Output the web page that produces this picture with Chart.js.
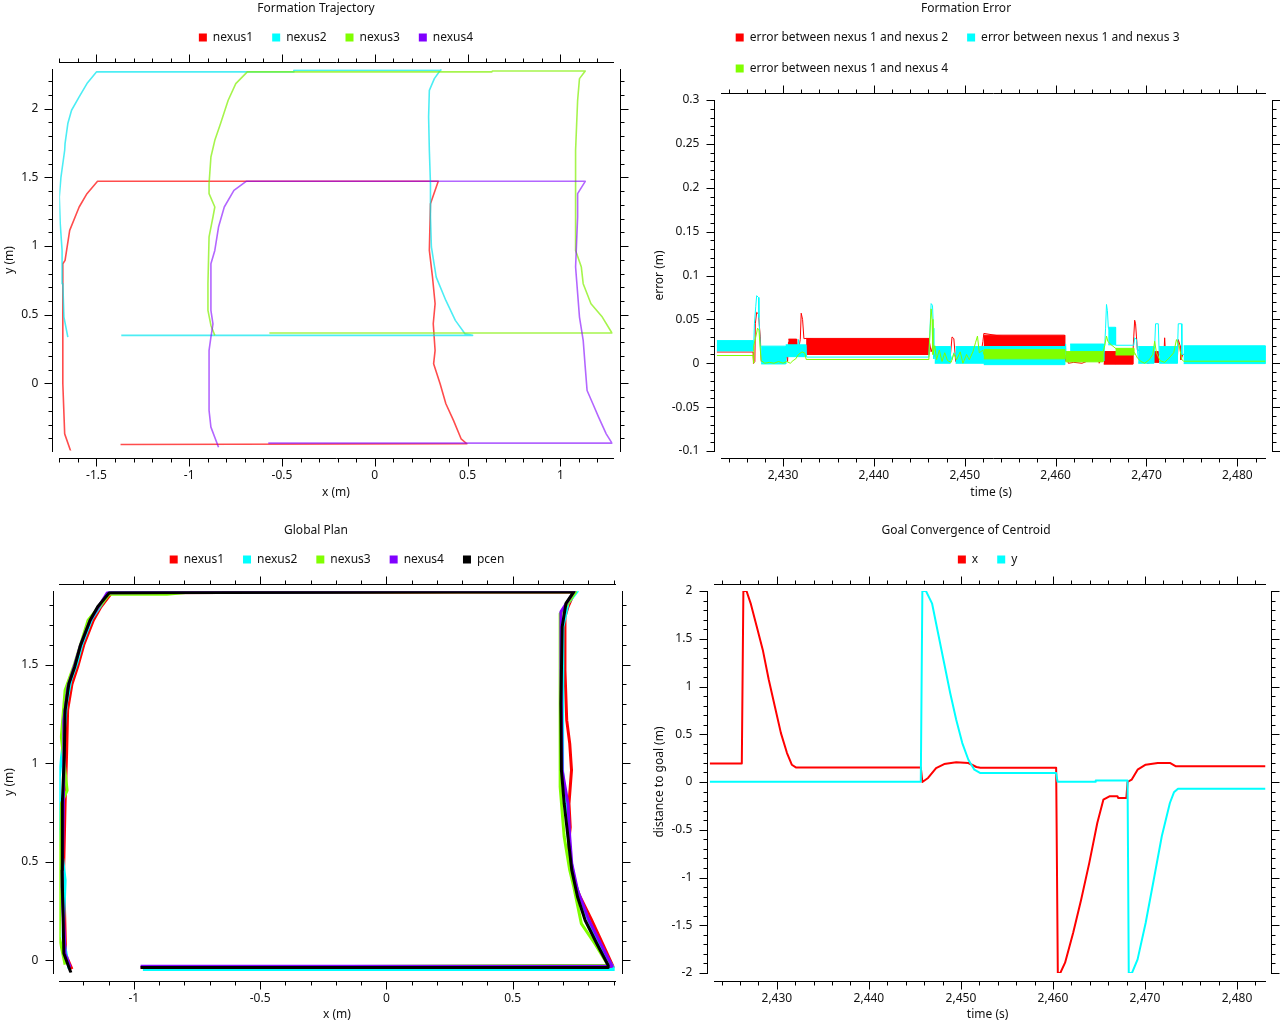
<!DOCTYPE html>
<html><head><meta charset="utf-8">
<script src="https://cdn.jsdelivr.net/npm/chart.js@4.4.1/dist/chart.umd.min.js"></script>
<style>
html,body{margin:0;padding:0;background:#fff;overflow:hidden;width:1280px;height:1024px;}
canvas{position:absolute;}
</style></head><body>
<canvas id="c1" width="640" height="512" style="left:0;top:0"></canvas>
<canvas id="c2" width="640" height="512" style="left:640px;top:0"></canvas>
<canvas id="c3" width="640" height="512" style="left:0;top:522px"></canvas>
<canvas id="c4" width="640" height="512" style="left:640px;top:522px"></canvas>
<script>
// ---------- Formation Trajectory (x,y in m) ----------
const trajX1 = [-1.638,-1.671,-1.681,-1.681,-1.681,-1.669,-1.644,-1.593,-1.551,-1.494,0.342,0.300,0.294,0.311,0.325,0.315,0.325,0.317,0.352,0.383,0.424,0.465,0.496,-1.370];
const trajY1 = [-0.495,-0.367,-0.002,0.483,0.871,0.896,1.114,1.284,1.381,1.471,1.471,1.308,0.968,0.774,0.580,0.434,0.240,0.143,-0.002,-0.148,-0.269,-0.403,-0.439,-0.444];
const trajX2 = [-1.654,-1.675,-1.681,-1.685,-1.695,-1.700,-1.691,-1.671,-1.669,-1.654,-1.634,-1.593,-1.551,-1.500,-0.440,-0.436,0.352,0.356,0.321,0.294,0.290,0.294,0.300,0.300,0.305,0.331,0.383,0.434,0.486,0.527,-1.366];
const trajY2 = [0.337,0.483,0.726,0.968,1.163,1.357,1.502,1.697,1.745,1.891,1.988,2.085,2.182,2.267,2.267,2.279,2.279,2.284,2.218,2.133,1.939,1.697,1.454,1.211,0.993,0.774,0.604,0.459,0.362,0.350,0.350];
const trajX3 = [-0.862,-0.883,-0.899,-0.899,-0.893,-0.872,-0.862,-0.893,-0.893,-0.883,-0.862,-0.831,-0.790,-0.749,-0.687,0.630,0.634,1.134,1.103,1.093,1.082,1.082,1.113,1.123,1.165,1.226,1.278,-0.568];
const trajY3 = [0.350,0.422,0.532,0.726,1.066,1.211,1.284,1.381,1.454,1.648,1.769,1.891,2.061,2.182,2.267,2.267,2.274,2.274,2.218,2.061,1.697,0.968,0.847,0.726,0.580,0.483,0.367,0.367];
const trajX4 = [-0.842,-0.883,-0.893,-0.893,-0.883,-0.872,-0.883,-0.883,-0.883,-0.862,-0.842,-0.811,-0.759,-0.693,1.134,1.093,1.093,1.082,1.103,1.123,1.134,1.144,1.175,1.206,1.247,1.278,-0.574];
const trajY4 = [-0.464,-0.318,-0.197,0.240,0.337,0.434,0.532,0.726,0.871,0.968,1.138,1.284,1.405,1.471,1.471,1.381,1.211,0.847,0.483,0.313,0.119,-0.051,-0.148,-0.245,-0.367,-0.434,-0.434];
const trajXTicks = [-1.5,-1,-0.5,0,0.5,1];
const trajYTicks = [0,0.5,1,1.5,2];

// ---------- Global Plan (x,y in m) ----------
const planX1 = [-1.245,-1.270,-1.278,-1.272,-1.266,-1.262,-1.245,-1.222,-1.198,-1.160,-1.130,-1.088,0.745,0.719,0.707,0.707,0.714,0.726,0.733,0.723,0.728,0.720,0.734,0.764,0.810,0.856,0.898,-0.973];
const planY1 = [-0.045,0.030,0.450,0.800,1.050,1.270,1.400,1.490,1.600,1.725,1.793,1.864,1.869,1.793,1.742,1.471,1.218,1.099,0.964,0.795,0.676,0.575,0.440,0.330,0.211,0.085,-0.034,-0.036];
const planX2 = [-1.257,-1.280,-1.272,-1.287,-1.295,-1.295,-1.277,-1.267,-1.249,-1.226,-1.204,-1.166,-1.097,0.757,0.719,0.699,0.696,0.699,0.711,0.726,0.745,0.772,0.818,0.863,0.901,0.901,-0.964];
const planY2 = [-0.042,0.118,0.406,0.575,0.795,0.930,1.133,1.302,1.421,1.505,1.607,1.733,1.864,1.874,1.810,1.691,1.302,0.964,0.761,0.541,0.406,0.288,0.152,0.034,-0.042,-0.047,-0.047];
const planX3 = [-1.272,-1.295,-1.292,-1.287,-1.264,-1.287,-1.272,-1.234,-1.181,-1.097,-0.869,-0.763,0.749,0.691,0.688,0.688,0.704,0.726,0.742,0.772,0.825,0.878,-0.965];
const planY3 = [-0.022,0.118,0.457,0.795,0.862,1.133,1.370,1.505,1.725,1.857,1.857,1.869,1.869,1.759,1.302,0.879,0.626,0.457,0.372,0.186,0.085,-0.025,-0.037];
const planX4 = [-1.252,-1.272,-1.284,-1.277,-1.277,-1.261,-1.234,-1.211,-1.173,-1.105,0.745,0.691,0.691,0.696,0.719,0.726,0.734,0.757,0.802,0.848,0.894,-0.973];
const planY4 = [-0.034,0.034,0.372,0.964,1.218,1.387,1.497,1.598,1.725,1.864,1.874,1.767,1.471,0.964,0.795,0.626,0.490,0.355,0.203,0.085,-0.030,-0.030];
const planXC = [-1.249,-1.277,-1.284,-1.283,-1.275,-1.272,-1.257,-1.234,-1.211,-1.173,-1.143,-1.097,0.742,0.711,0.696,0.691,0.693,0.704,0.719,0.734,0.757,0.787,0.833,0.878,0.878,-0.973];
const planYC = [-0.063,0.034,0.457,0.795,1.049,1.268,1.404,1.488,1.598,1.725,1.793,1.864,1.869,1.810,1.691,1.302,0.964,0.795,0.626,0.457,0.321,0.203,0.085,-0.025,-0.037,-0.037];
const planXTicks = [-1,-0.5,0,0.5];
const planYTicks = [0,0.5,1,1.5];

// ---------- Formation Error (time s, error m) ----------
const err12T = [2422.7,2426.7,2426.75,2426.9,2426.95,2427.1,2427.3,2427.4,2427.5,2427.6,2428.0,2430.2,2430.35,2430.5,2430.6,2431.5,2431.6,2431.9,2432.0,2432.15,2432.3,2432.55,
 2446.05,2446.1,2446.3,2446.5,2446.6,2446.9,2447.1,2447.4,2447.6,2447.9,2448.1,2448.4,2448.6,2448.8,2449.0,2449.3,2449.6,2450.0,2450.3,2450.6,2450.9,2451.2,2451.5,2451.8,2452.0,2452.1,
 2461.0,2461.05,2461.2,2461.4,2462.0,2462.9,2463.4,2464.6,2464.8,2465.1,2465.3,
 2468.5,2468.6,2468.7,2468.8,2468.9,2469.0,2469.2,2469.5,2469.7,2470.1,2470.5,2470.8,
 2471.3,2471.9,2472.0,2472.1,2472.3,2472.9,2473.4,2473.5,2473.7,2473.8,2474.0,2483.1];
const err12V = [0.0128,0.0128,0.0,0.002,0.045,0.058,0.056,0.042,0.030,0.002,0.0,0.0,0.011,0.002,0.024,0.024,0.010,0.027,0.057,0.050,0.028,0.0283,
 0.010,0.025,0.013,0.020,0.007,0.016,0.001,0.012,0.003,0.011,0.004,0.006,0.030,0.028,0.002,0.013,0.004,0.018,0.002,0.015,0.006,0.013,0.003,0.012,0.025,0.034,
 0.019,0.002,0.010,0.0,0.001,0.0,0.002,0.009,0.0,0.006,0.0133,
 0.010,0.030,0.049,0.045,0.030,0.015,0.015,0.008,0.012,0.0,0.001,0.0133,
 0.001,0.005,0.029,0.010,0.0145,0.0016,0.005,0.027,0.020,0.004,0.010,0.019];
const err12Bands = [[2430.6,2431.5,0.012,0.0275],[2432.55,2446.05,0.010,0.0283],[2452.1,2461.0,0.019,0.032],[2465.3,2466.6,-0.001,0.0133],[2466.6,2468.5,-0.001,0.010],[2470.8,2471.3,0.001,0.0133],[2472.3,2472.9,0.0016,0.0145]];

const err13T = [2422.7,2426.7,2426.75,2426.85,2427.0,2427.1,2427.3,2427.35,2427.5,2427.6,2430.3,2431.6,2431.7,2431.9,2432.5,2432.6,2446.05,2446.1,2446.2,2446.3,2446.45,2446.55,2446.6,2446.7,2448.4,2448.6,2448.8,2449.0,2452.1,2461.0,2461.1,2461.2,2461.6,2465.3,2465.4,2465.5,2465.6,2465.7,2465.8,2466.6,2468.5,2468.6,2468.7,2468.9,2469.1,2470.8,2470.9,2471.0,2471.3,2471.4,2473.4,2473.5,2473.85,2473.9,2474.1,2483.1];
const err13V = [0.02,0.02,0.014,0.045,0.065,0.077,0.075,0.052,0.02,0.01,0.012,0.015,0.027,0.012,0.02,0.007,0.007,0.02,0.045,0.068,0.066,0.04,0.005,0.019,0.010,0.004,0.012,0.010,0.01,0.01,0.022,0.003,0.012,0.012,0.02,0.04,0.067,0.06,0.041,0.0205,0.0205,0.0205,0.029,0.027,0.005,0.010,0.019,0.045,0.045,0.010,0.010,0.045,0.045,0.010,0.010,0.010];
const err13Bands = [[2422.7,2426.7,0.0141,0.0258],[2427.6,2430.3,-0.0008,0.0195],[2430.3,2432.5,0.0075,0.021],[2446.7,2448.4,0.0,0.019],[2449.0,2452.1,0.0,0.019],[2452.1,2461.0,-0.0016,0.0191],[2461.6,2465.3,0.0025,0.0219],[2465.8,2466.6,0.021,0.041],[2469.1,2470.8,0.0,0.019],[2471.4,2473.4,0.0,0.019],[2474.1,2483.1,-0.0004,0.0199]];

const err14T = [2422.7,2426.7,2426.75,2426.8,2427.0,2427.2,2427.35,2427.5,2427.6,2428.0,2428.5,2429.0,2429.5,2430.0,2430.4,2430.8,2431.1,2431.4,2431.7,2432.1,2432.4,2432.55,2446.05,2446.15,2446.3,2446.4,2446.5,2446.7,2446.9,2447.2,2447.5,2447.8,2448.1,2448.5,2448.8,2449.1,2449.5,2449.8,2450.2,2450.5,2450.9,2451.2,2451.4,2451.6,2452.0,2452.1,2461.0,2461.1,2465.2,2465.4,2465.6,2465.75,2466.0,2466.6,2468.6,2468.7,2469.0,2469.4,2469.8,2470.3,2470.7,2470.9,2471.1,2471.5,2472.0,2472.5,2473.0,2473.3,2473.6,2473.9,2474.1,2483.1];
const err14V = [0.0088,0.0088,0.0,0.02,0.03,0.04,0.038,0.015,0.003,0.0,0.001,0.0,0.002,0.0,0.002,0.0,0.003,0.005,0.01,0.013,0.0115,0.0043,0.0043,0.03,0.062,0.05,0.01,0.02,0.004,0.015,0.002,0.012,0.003,0.001,0.011,0.004,0.013,0.0,0.01,0.004,0.013,0.024,0.031,0.012,0.015,0.01,0.01,0.008,0.012,0.02,0.031,0.025,0.022,0.017,0.012,0.012,0.006,0.002,0.0,0.004,0.01,0.025,0.012,0.003,0.001,0.006,0.012,0.027,0.02,0.004,0.0023,0.0023];
const err14Bands = [[2452.1,2461.0,0.005,0.0155],[2461.1,2465.2,0.0016,0.0133],[2466.6,2468.6,0.0094,0.017]];
const timeTicks = [2430,2440,2450,2460,2470,2480];
const errYTicks = [-0.1,-0.05,0,0.05,0.1,0.15,0.2,0.25,0.3];

// ---------- Goal Convergence of Centroid ----------
const goalXT = [2422.7,2426.19,2426.36,2426.7,2427.15,2427.81,2428.47,2429.12,2429.78,2430.44,2431.10,2431.62,2432.06,2445.64,2445.81,2446.43,2447.30,2448.18,2449.49,2450.81,2451.68,2452.12,2460.35,2460.53,2460.80,2461.32,2462.20,2463.07,2463.95,2464.82,2465.48,2466.14,2467.01,2467.10,2467.98,2468.11,2468.55,2469.20,2470.08,2471.39,2472.71,2473.37,2483.1];
const goalXV = [0.195,0.195,2.0,2.0,1.871,1.627,1.383,1.070,0.791,0.512,0.303,0.181,0.153,0.153,0.0,0.042,0.146,0.188,0.206,0.199,0.157,0.150,0.150,-2.0,-2.0,-1.892,-1.578,-1.230,-0.847,-0.429,-0.185,-0.150,-0.150,-0.167,-0.167,0.0,0.024,0.129,0.181,0.199,0.199,0.164,0.164];
const goalYT = [2422.7,2445.64,2445.81,2446.2,2446.86,2447.52,2448.18,2448.84,2449.49,2450.15,2450.81,2451.46,2452.12,2460.35,2460.5,2464.6,2464.65,2468.11,2468.24,2468.59,2469.20,2470.08,2470.96,2471.83,2472.71,2473.15,2473.59,2483.1];
const goalYV = [0.003,0.003,2.0,2.0,1.871,1.557,1.244,0.930,0.652,0.408,0.233,0.129,0.094,0.094,0.003,0.003,0.017,0.017,-2.0,-2.0,-1.857,-1.474,-1.021,-0.568,-0.220,-0.108,-0.070,-0.070];
const goalYTicks = [-2,-1.5,-1,-0.5,0,0.5,1,1.5,2];

// ---------- helpers ----------
Chart.defaults.font.family = "'Noto Sans', 'DejaVu Sans', sans-serif";
Chart.defaults.font.size = 12;
Chart.defaults.color = '#111';
const zip = (xs, ys) => xs.map((x, i) => ({x: x, y: ys[i]}));
const bandShape = b => [{x:b[0],y:b[3]},{x:b[1],y:b[3]},{x:b[1],y:b[2]},{x:b[0],y:b[2]}];
const fmtTime = v => v.toLocaleString('en-US');
const fmtNum = v => String(v);

function axesPlugin(a) {
  return {
    id: 'detachedAxes',
    afterDraw(chart) {
      const ctx = chart.ctx, ca = chart.chartArea, xs = chart.scales.x, ys = chart.scales.y;
      const r = v => Math.round(v) + 0.5;
      const near = (arr, v) => arr.some(m => Math.abs(m - v) < 1e-7);
      ctx.save();
      ctx.strokeStyle = '#000'; ctx.lineWidth = 1;
      ctx.beginPath();
      const yT = r(ca.top - a.gapT), yB = r(ca.bottom + a.gapB);
      const xL = r(ca.left - a.gapL), xR = r(ca.right + a.gapR);
      const x0 = Math.round(xs.getPixelForValue(a.xLine ? a.xLine[0] : xs.min));
      const x1 = Math.round(xs.getPixelForValue(a.xLine ? a.xLine[1] : xs.max)) + 1;
      ctx.moveTo(x0, yT); ctx.lineTo(x1, yT);
      ctx.moveTo(x0, yB); ctx.lineTo(x1, yB);
      const y0 = Math.round(ca.top), y1 = Math.round(ca.bottom) + 1;
      ctx.moveTo(xL, y0); ctx.lineTo(xL, y1);
      ctx.moveTo(xR, y0); ctx.lineTo(xR, y1);
      for (let i = Math.ceil(xs.min / a.xMinor - 1e-6); i <= Math.floor(xs.max / a.xMinor + 1e-6); i++) {
        const v = i * a.xMinor;
        const len = near(a.xMajor, v) ? a.major : a.minor;
        const p = r(xs.getPixelForValue(v));
        ctx.moveTo(p, yT); ctx.lineTo(p, yT - len);
        ctx.moveTo(p, yB); ctx.lineTo(p, yB + len);
      }
      for (let i = Math.ceil(ys.min / a.yMinor - 1e-6); i <= Math.floor(ys.max / a.yMinor + 1e-6); i++) {
        const v = i * a.yMinor;
        const len = near(a.yMajor, v) ? a.major : a.minor;
        const p = r(ys.getPixelForValue(v));
        ctx.moveTo(xL, p); ctx.lineTo(xL - len, p);
        ctx.moveTo(xR, p); ctx.lineTo(xR + len, p);
      }
      ctx.stroke();
      ctx.restore();
    }
  };
}

function makeChart(id, cfg, datasets) {
  const tickFont = {size: 12};
  return new Chart(document.getElementById(id), {
    type: 'line',
    data: {datasets: datasets},
    plugins: [axesPlugin(cfg.axes)],
    options: {
      responsive: false, animation: false, events: [],
      layout: {padding: {left: cfg.pl, right: cfg.pr, top: 0, bottom: 0}},
      elements: {point: {radius: 0, hitRadius: 0, hoverRadius: 0}, line: {tension: 0, borderJoinStyle: 'round'}},
      plugins: {
        title: {display: true, text: cfg.title, font: {size: 12, weight: 'normal'}, color: '#111', padding: {top: 1.5, bottom: -3.5}},
        legend: {display: true, position: 'top', align: cfg.legendAlign, fullSize: false,
          labels: {boxWidth: 8, boxHeight: 8, padding: 19, font: {size: 12}, color: '#111',
            filter: (item, data) => { item.lineWidth = 0; return !data.datasets[item.datasetIndex].band; },
            sort: (a, b) => a.datasetIndex - b.datasetIndex}},
        tooltip: {enabled: false}
      },
      scales: {
        x: {type: 'linear', position: 'bottom', min: cfg.xRange[0], max: cfg.xRange[1],
          grid: {display: false, drawTicks: false}, border: {display: false},
          ticks: {padding: cfg.xPad, font: tickFont, color: '#111', autoSkip: false, maxRotation: 0, callback: cfg.xFmt},
          afterBuildTicks: s => { s.ticks = cfg.xMajor.map(v => ({value: v})); },
          afterFit: s => { s.height = cfg.xH; },
          title: {display: true, text: cfg.xTitle, font: {size: 12}, color: '#111', padding: {top: 0, bottom: 11.8}}},
        y: {type: 'linear', position: 'left', min: cfg.yRange[0], max: cfg.yRange[1],
          grid: {display: false, drawTicks: false}, border: {display: false},
          ticks: {padding: cfg.yPad, font: tickFont, color: '#111', autoSkip: false, callback: fmtNum},
          afterBuildTicks: s => { s.ticks = cfg.yMajor.map(v => ({value: v})); },
          afterFit: s => { s.width = cfg.yW; },
          title: {display: true, text: cfg.yTitle, font: {size: 12}, color: '#111', padding: {top: cfg.yTitlePad, bottom: 0}}},
        x2: {type: 'linear', position: 'top', grid: {display: false, drawTicks: false}, border: {display: false},
          ticks: {display: false}, afterFit: s => { s.height = cfg.x2H; }},
        y2: {type: 'linear', position: 'right', grid: {display: false, drawTicks: false}, border: {display: false},
          ticks: {display: false}, afterFit: s => { s.width = cfg.y2W; }}
      }
    }
  });
}

const RED = '#ff0000', CYAN = '#00ffff', GREEN = '#80ff00', PURPLE = '#8000ff';
const lineDs = (label, data, color, stroke, width, order) => ({label, data, borderColor: stroke, backgroundColor: color, borderWidth: width, fill: false, order});

// Chart 1
makeChart('c1', {
  title: 'Formation Trajectory', pl: 0, pr: 8, legendAlign: 'center',
  xRange: [-1.70, 1.282], yRange: [-0.488, 2.286], xMajor: trajXTicks, yMajor: trajYTicks, xFmt: fmtNum,
  xPad: 18.3, yPad: 21, xH: 61.5, yW: 59.3, x2H: 15.9, y2W: 19.3, xTitle: 'x (m)', yTitle: 'y (m)', yTitlePad: 2.8,
  axes: {gapL: 7, gapR: 7, gapT: 7, gapB: 7.5, xMinor: 0.1, yMinor: 0.1, xMajor: trajXTicks, yMajor: trajYTicks, major: 8, minor: 4}
}, [
  lineDs('nexus1', zip(trajX1, trajY1), RED, 'rgba(255,0,0,0.7)', 1.6, 0),
  lineDs('nexus2', zip(trajX2, trajY2), CYAN, 'rgba(0,230,240,0.7)', 1.6, -1),
  lineDs('nexus3', zip(trajX3, trajY3), GREEN, 'rgba(128,240,0,0.7)', 1.6, -2),
  lineDs('nexus4', zip(trajX4, trajY4), PURPLE, 'rgba(128,0,255,0.6)', 1.6, -3)
]);

// Chart 2
const err2Sets = [];
err2Sets.push(lineDs('error between nexus 1 and nexus 2', zip(err12T, err12V), RED, RED, 1, 3));
err2Sets.push(lineDs('error between nexus 1 and nexus 3', zip(err13T, err13V), CYAN, CYAN, 1, 2));
err2Sets.push(lineDs('error between nexus 1 and nexus 4', zip(err14T, err14V), GREEN, GREEN, 1, 1));
[[err12Bands, RED, 3], [err13Bands, CYAN, 2], [err14Bands, GREEN, 1]].forEach(([bands, col, ord]) => {
  bands.forEach(b => err2Sets.push({label: '', band: true, data: bandShape(b), borderColor: col, backgroundColor: col, borderWidth: 1, fill: 'shape', order: ord}));
});
makeChart('c2', {
  title: 'Formation Error', pl: 12, pr: 0, legendAlign: 'start',
  xRange: [2422.7, 2483.1], yRange: [-0.1, 0.3], xMajor: timeTicks, yMajor: errYTicks, xFmt: fmtTime,
  xPad: 17.8, yPad: 17.3, xH: 61, yW: 64.7, x2H: 15.6, y2W: 14.5, xTitle: 'time (s)', yTitle: 'error (m)', yTitlePad: 0.8,
  axes: {gapL: 3, gapR: 6.5, gapT: 7, gapB: 7, xMinor: 2, yMinor: 0.01, xMajor: timeTicks, yMajor: errYTicks, major: 8, minor: 4, xLine: [2423.15, 2483.0]}
}, err2Sets);

// Chart 3
makeChart('c3', {
  title: 'Global Plan', pl: 0, pr: 8, legendAlign: 'center',
  xRange: [-1.295, 0.904], yRange: [-0.063, 1.872], xMajor: planXTicks, yMajor: planYTicks, xFmt: fmtNum,
  xPad: 18.4, yPad: 21, xH: 61.3, yW: 59.3, x2H: 15.8, y2W: 17.3, xTitle: 'x (m)', yTitle: 'y (m)', yTitlePad: 2.8,
  axes: {gapL: 6.5, gapR: 7.5, gapT: 7, gapB: 8, xMinor: 0.1, yMinor: 0.1, xMajor: planXTicks, yMajor: planYTicks, major: 8, minor: 4}
}, [
  lineDs('nexus1', zip(planX1, planY1), RED, RED, 3, 0),
  lineDs('nexus2', zip(planX2, planY2), CYAN, CYAN, 3, -1),
  lineDs('nexus3', zip(planX3, planY3), GREEN, GREEN, 3, -2),
  lineDs('nexus4', zip(planX4, planY4), PURPLE, PURPLE, 3, -3),
  lineDs('pcen', zip(planXC, planYC), '#000000', '#000000', 3, -4)
]);

// Chart 4
makeChart('c4', {
  title: 'Goal Convergence of Centroid', pl: 12, pr: 0, legendAlign: 'center',
  xRange: [2422.7, 2483.1], yRange: [-2, 2], xMajor: timeTicks, yMajor: goalYTicks, xFmt: fmtTime,
  xPad: 18.1, yPad: 17.4, xH: 61, yW: 57.7, x2H: 15.6, y2W: 14.5, xTitle: 'time (s)', yTitle: 'distance to goal (m)', yTitlePad: 0.8,
  axes: {gapL: 3, gapR: 5.5, gapT: 7, gapB: 7.7, xMinor: 2, yMinor: 0.1, xMajor: timeTicks, yMajor: goalYTicks, major: 8, minor: 4, xLine: [2423.12, 2483.0]}
}, [
  lineDs('x', zip(goalXT, goalXV), RED, RED, 2, 0),
  lineDs('y', zip(goalYT, goalYV), CYAN, CYAN, 2, -1)
]);
</script>
</body></html>
